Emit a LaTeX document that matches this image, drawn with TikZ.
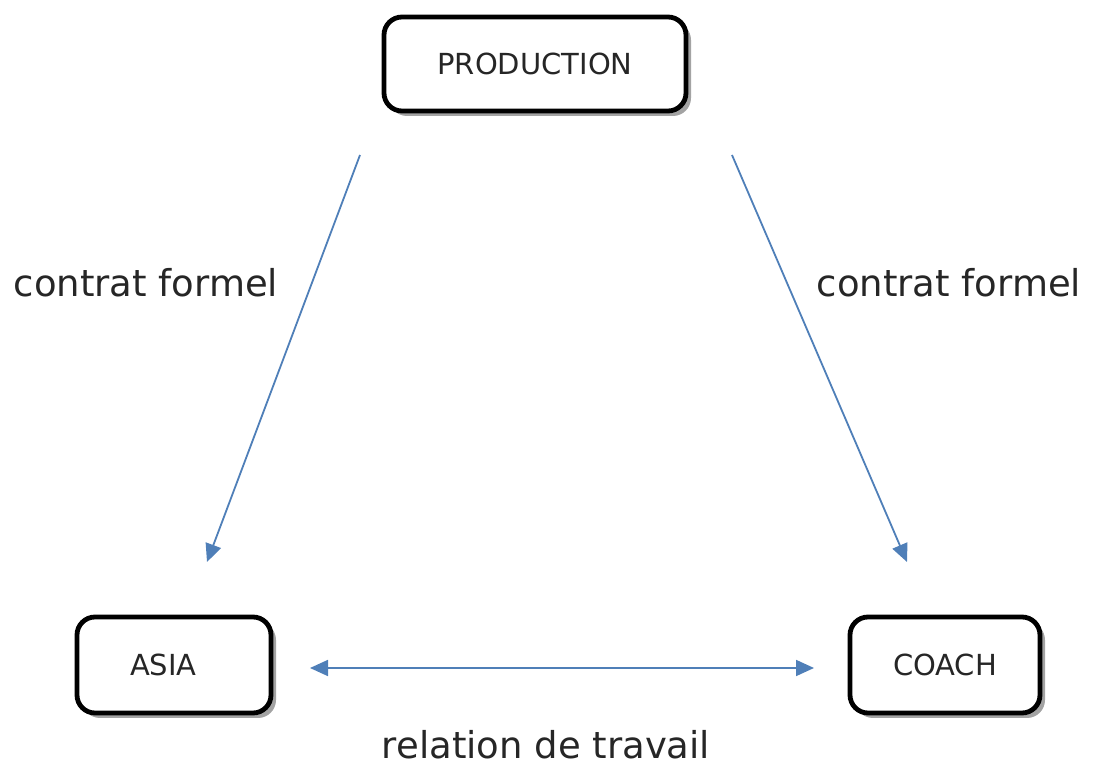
\documentclass[tikz,border=0pt]{standalone}
\usepackage{fontspec}
\setmainfont{DejaVu Sans}
\usetikzlibrary{arrows.meta,shadows}

\definecolor{linkblue}{HTML}{4F7FB8}

\tikzset{
  partybox/.style={draw=black, line width=2.4pt, rounded corners=9pt, fill=white,
    drop shadow={shadow xshift=2.5pt, shadow yshift=-2.5pt, fill=black!45, opacity=0.8},
    font=\fontsize{14.5}{16}\selectfont, text=black!85},
  link/.style={linkblue, line width=0.9pt},
  linklabel/.style={font=\fontsize{18.5}{21}\selectfont, text=black!85},
  tip/.style={Triangle[length=9pt,width=8pt]},
}

\begin{document}
\begin{tikzpicture}[x=0.5pt,y=-0.5pt]
    \useasboundingbox (0,0) rectangle (1093,769);

    % Boxes
    \node[partybox, minimum width=151pt, minimum height=47pt] (prod) at (535,64) {PRODUCTION};
    \node[partybox, minimum width=97pt, minimum height=48pt, text width=80pt, align=left] (asia) at (174,665) {\hspace{18pt}ASIA};
    \node[partybox, minimum width=95pt, minimum height=48pt] (coach) at (945,665) {COACH};

    % Arrow ends
    \coordinate (PL) at (360,155);
    \coordinate (AL) at (207,562);
    \coordinate (PR) at (732,155);
    \coordinate (CR) at (907,562);
    \coordinate (AH) at (310,668);
    \coordinate (CH) at (814,668);

    % Formal contracts
    \draw[link, -{Triangle[length=9pt,width=8pt]}] (PL) -- (AL);
    \draw[link, -{Triangle[length=9pt,width=8pt]}] (PR) -- (CR);
    \node[linklabel] (lblL) at (146,283) {contrat formel};
    \node[linklabel] (lblR) at (949,283) {contrat formel};

    % Working relation
    \draw[link, {Triangle[length=9pt,width=8pt]}-{Triangle[length=9pt,width=8pt]}] (AH) -- (CH);
    \node[linklabel] (lblB) at (546,745) {relation de travail};

\end{tikzpicture}
\end{document}
